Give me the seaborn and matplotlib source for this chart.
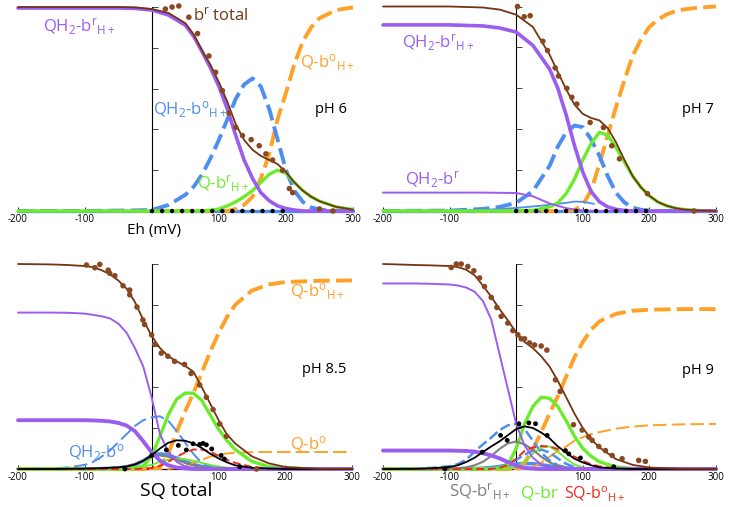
import matplotlib
matplotlib.use('Agg')
import matplotlib.pyplot as plt
import seaborn as sns

# ---------------- data ----------------
G_TOP = [-200, -100, -50, -25, 0, 25, 50, 62.5, 75, 87.5, 100, 112.5, 125, 137.5,
         150, 162.5, 175, 187.5, 200, 212.5, 225, 237.5, 250, 275, 300]
G_BOT = [-200, -150, -125, -100, -87.5, -75, -62.5, -50, -37.5, -25, -12.5, 0, 12.5,
         25, 37.5, 50, 62.5, 75, 87.5, 100, 112.5, 125, 150, 175, 200, 250, 300]

# pH 6
P6_BR_TOTAL = [1.0, 1.0, 1.0, 0.998, 0.99, 0.97, 0.92, 0.864, 0.785, 0.715, 0.63, 0.535, 0.425,
               0.348, 0.30, 0.27, 0.25, 0.23, 0.19, 0.14, 0.10, 0.07, 0.048, 0.02, 0.007]
P6_QH2_BR_H = [0.995, 0.995, 0.995, 0.993, 0.985, 0.96, 0.91, 0.855, 0.78, 0.70, 0.61, 0.50, 0.37,
               0.25, 0.16, 0.09, 0.05, 0.025, 0.012, 0.005, 0, 0, 0, 0, 0]
P6_QH2_BO_H = [0, 0, 0.002, 0.003, 0.005, 0.03, 0.08, 0.12, 0.18, 0.26, 0.35, 0.45, 0.55,
               0.62, 0.65, 0.61, 0.50, 0.35, 0.20, 0.10, 0.045, 0.018, 0.007, 0, 0]
P6_QH2_BO = [0] * 25
P6_Q_BR_H = [0, 0, 0, 0, 0, 0, 0, 0, 0, 0.004, 0.01, 0.025, 0.045,
             0.07, 0.10, 0.14, 0.18, 0.20, 0.185, 0.14, 0.10, 0.07, 0.048, 0.02, 0.007]
P6_Q_BO_H = [0, 0, 0, 0, 0, 0, 0, 0, 0, 0, 0, 0, 0.01,
             0.03, 0.07, 0.16, 0.28, 0.45, 0.58, 0.72, 0.83, 0.90, 0.945, 0.985, 0.998]
P6_DOT_X = [20, 30, 40, 55, 68, 85, 95, 105, 115, 125, 135, 148, 160, 170, 180, 195, 205, 210, 250, 270]
P6_DOT_Y = [0.99, 1.0, 1.005, 0.95, 0.87, 0.76, 0.68, 0.59, 0.48, 0.41, 0.37, 0.35, 0.32, 0.28,
            0.25, 0.20, 0.11, 0.09, 0.01, 0.0]
BASE_DOT_X = [0, 15, 30, 45, 60, 75, 90, 105, 120, 135, 150, 165, 180, 195]
BASE_DOT_Y = [0] * 14

# pH 7
P7_BR_TOTAL = [1.0, 1.0, 0.995, 0.985, 0.96, 0.90, 0.765, 0.68, 0.595, 0.52, 0.475, 0.455, 0.443,
               0.405, 0.335, 0.25, 0.17, 0.115, 0.075, 0.045, 0.027, 0.015, 0.008, 0.002, 0]
P7_QH2_BR_H = [0.91, 0.91, 0.905, 0.895, 0.875, 0.81, 0.695, 0.60, 0.47, 0.32, 0.19, 0.095, 0.045,
               0.02, 0.008, 0.003, 0, 0, 0, 0, 0, 0, 0, 0, 0]
P7_QH2_BR = [0.09, 0.09, 0.09, 0.089, 0.088, 0.072, 0.037, 0.025, 0.014, 0.007, 0.003, 0.001, 0,
             0, 0, 0, 0, 0, 0, 0, 0, 0, 0, 0, 0]
P7_QH2_BO_H = [0, 0.002, 0.01, 0.02, 0.04, 0.097, 0.22, 0.315, 0.385, 0.418, 0.41, 0.35, 0.27,
               0.17, 0.088, 0.042, 0.016, 0.006, 0.002, 0, 0, 0, 0, 0, 0]
P7_QH2_BO_X = [-200, -100, -50, 0, 25, 50, 75, 87.5, 100, 117]
P7_QH2_BO_Y = [0, 0.002, 0.005, 0.015, 0.022, 0.03, 0.04, 0.046, 0.045, 0.035]
P7_Q_BR_H = [0, 0, 0, 0, 0, 0.003, 0.02, 0.04, 0.085, 0.155, 0.25, 0.33, 0.385,
             0.37, 0.31, 0.24, 0.17, 0.115, 0.073, 0.044, 0.026, 0.015, 0.008, 0.002, 0]
P7_Q_BO_H = [0, 0, 0, 0, 0, 0, 0, 0, 0, 0.005, 0.03, 0.10, 0.23,
             0.37, 0.51, 0.64, 0.76, 0.84, 0.90, 0.935, 0.96, 0.975, 0.985, 0.995, 1.0]
P7_DOT_X = [2, 12, 21, 40, 47, 58.5, 63.5, 76, 83.5, 91, 111, 131, 143.5, 155, 197, 267]
P7_DOT_Y = [1.0, 0.95, 0.955, 0.83, 0.785, 0.70, 0.66, 0.60, 0.556, 0.523, 0.433, 0.408, 0.319,
            0.255, 0.085, 0.0]

# pH 8.5
P85_BR_TOTAL = [1.0, 0.998, 0.995, 0.99, 0.985, 0.97, 0.95, 0.92, 0.88, 0.815, 0.727, 0.65, 0.59,
                0.55, 0.525, 0.503, 0.475, 0.40, 0.32, 0.24, 0.17, 0.125, 0.062, 0.028, 0.01, 0.001, 0]
P85_QH2_BR_H = [0.763, 0.763, 0.762, 0.758, 0.752, 0.745, 0.735, 0.71, 0.665, 0.59, 0.50, 0.35, 0.17,
                0.085, 0.035, 0.013, 0.005, 0.002, 0, 0, 0, 0, 0, 0, 0, 0, 0]
P85_QH2_BR = [0.238, 0.238, 0.238, 0.238, 0.237, 0.235, 0.232, 0.225, 0.212, 0.185, 0.135, 0.082, 0.041,
              0.018, 0.007, 0.003, 0, 0, 0, 0, 0, 0, 0, 0, 0, 0, 0]
P85_QH2_BO = [0, 0.003, 0.008, 0.02, 0.035, 0.06, 0.09, 0.13, 0.17, 0.21, 0.238, 0.252, 0.257,
              0.235, 0.185, 0.13, 0.074, 0.03, 0.012, 0.004, 0, 0, 0, 0, 0, 0, 0]
P85_QH2_BO_H = [0, 0, 0, 0, 0, 0.002, 0.003, 0.005, 0.01, 0.02, 0.04, 0.065, 0.074,
                0.068, 0.053, 0.036, 0.022, 0.012, 0.005, 0.002, 0, 0, 0, 0, 0, 0, 0]
P85_Q_BR_H = [0, 0, 0, 0, 0, 0, 0, 0, 0, 0.005, 0.015, 0.06, 0.16,
              0.265, 0.34, 0.37, 0.37, 0.335, 0.265, 0.195, 0.14, 0.095, 0.037, 0.012, 0.004, 0, 0]
P85_Q_BR = [0, 0, 0, 0, 0, 0, 0, 0, 0.002, 0.005, 0.012, 0.02, 0.035,
            0.045, 0.05, 0.048, 0.04, 0.03, 0.02, 0.012, 0.007, 0.004, 0, 0, 0, 0, 0]
P85_SQ_TOTAL = [0, 0, 0.001, 0.002, 0.003, 0.004, 0.006, 0.008, 0.012, 0.022, 0.04, 0.066, 0.10,
                0.128, 0.14, 0.138, 0.125, 0.103, 0.075, 0.052, 0.033, 0.018, 0.006, 0.002, 0, 0, 0]
P85_SQ_BR_H = [0, 0, 0, 0.001, 0.002, 0.003, 0.005, 0.008, 0.014, 0.025, 0.042, 0.06, 0.066,
               0.06, 0.045, 0.03, 0.018, 0.01, 0.005, 0.002, 0, 0, 0, 0, 0, 0, 0]
P85_SQ_BO_H = [0, 0, 0, 0, 0, 0, 0, 0, 0, 0, 0.002, 0.005, 0.015,
               0.035, 0.06, 0.08, 0.095, 0.095, 0.085, 0.065, 0.045, 0.03, 0.01, 0.003, 0, 0, 0]
P85_Q_BO_H = [0, 0, 0, 0, 0, 0, 0, 0, 0, 0, 0, 0.002, 0.01,
              0.075, 0.18, 0.28, 0.37, 0.47, 0.57, 0.66, 0.74, 0.80, 0.87, 0.90, 0.912, 0.918, 0.92]
P85_Q_BO = [0, 0, 0, 0, 0, 0, 0, 0, 0, 0, 0, 0, 0,
            0, 0.005, 0.015, 0.03, 0.045, 0.06, 0.07, 0.076, 0.079, 0.082, 0.083, 0.083, 0.083, 0.083]
P85_DOT_X = [-97.5, -85, -77.6, -65, -62.7, -55, -42.8, -32.8, -32.8, -21.9, -13, -10.5, 0, 4.5,
             14.4, 24.4, 34.4, 49.3, 59, 72, 82, 92, 102, 112, 157]
P85_DOT_Y = [0.995, 0.982, 0.998, 0.97, 0.955, 0.943, 0.894, 0.873, 0.85, 0.79, 0.727, 0.705, 0.654,
             0.608, 0.565, 0.55, 0.525, 0.51, 0.466, 0.41, 0.35, 0.29, 0.22, 0.16, 0.0]
P85_SQ_DOT_X = [-40, 0, 22, 40, 52, 62, 72, 77, 82, 90, 104, 109, 132]
P85_SQ_DOT_Y = [0.0, 0.066, 0.093, 0.115, 0.093, 0.123, 0.12, 0.125, 0.118, 0.098, 0.066, 0.049, 0.011]

# pH 9
P9_BR_TOTAL = [1.0, 0.995, 0.993, 0.99, 0.985, 0.972, 0.945, 0.895, 0.84, 0.78, 0.725, 0.665, 0.62,
               0.59, 0.55, 0.50, 0.43, 0.35, 0.27, 0.20, 0.145, 0.105, 0.048, 0.02, 0.007, 0.001, 0]
P9_QH2_BR_H = [0.905, 0.905, 0.903, 0.90, 0.895, 0.885, 0.865, 0.82, 0.73, 0.56, 0.39, 0.22, 0.115,
               0.055, 0.022, 0.008, 0.003, 0, 0, 0, 0, 0, 0, 0, 0, 0, 0]
P9_QH2_BR = [0.09, 0.09, 0.09, 0.09, 0.089, 0.088, 0.085, 0.077, 0.066, 0.052, 0.034, 0.016, 0.006,
             0.002, 0, 0, 0, 0, 0, 0, 0, 0, 0, 0, 0, 0, 0]
P9_QH2_BO = [0, 0.002, 0.006, 0.013, 0.024, 0.045, 0.085, 0.12, 0.153, 0.19, 0.213, 0.22, 0.195,
             0.138, 0.08, 0.042, 0.018, 0.007, 0.002, 0, 0, 0, 0, 0, 0, 0, 0]
P9_QH2_BO_H = [0, 0, 0, 0, 0, 0, 0, 0.002, 0.005, 0.012, 0.025, 0.045, 0.07,
               0.09, 0.095, 0.08, 0.052, 0.025, 0.01, 0.003, 0, 0, 0, 0, 0, 0, 0]
P9_QH2_BO_S = [0, 0, 0, 0, 0, 0.001, 0.002, 0.004, 0.007, 0.012, 0.018, 0.024, 0.027,
               0.026, 0.021, 0.015, 0.009, 0.005, 0.002, 0, 0, 0, 0, 0, 0, 0, 0]
P9_Q_BR_H = [0, 0, 0, 0, 0, 0, 0, 0, 0, 0.005, 0.02, 0.10, 0.22,
             0.305, 0.35, 0.345, 0.305, 0.235, 0.16, 0.10, 0.062, 0.035, 0.01, 0.003, 0, 0, 0]
P9_Q_BR = [0, 0, 0, 0, 0, 0, 0, 0, 0, 0, 0.002, 0.01, 0.035,
           0.075, 0.105, 0.11, 0.085, 0.05, 0.022, 0.008, 0.003, 0, 0, 0, 0, 0, 0]
P9_SQ_TOTAL = [0, 0.001, 0.004, 0.01, 0.018, 0.034, 0.055, 0.083, 0.11, 0.135, 0.165, 0.195, 0.208,
               0.20, 0.178, 0.15, 0.11, 0.08, 0.05, 0.032, 0.018, 0.008, 0.002, 0, 0, 0, 0]
P9_SQ_BR_H = [0, 0, 0, 0.002, 0.004, 0.008, 0.018, 0.035, 0.063, 0.098, 0.125, 0.134, 0.12,
              0.095, 0.06, 0.033, 0.015, 0.005, 0.002, 0, 0, 0, 0, 0, 0, 0, 0]
P9_SQ_BO_H = [0, 0, 0, 0, 0, 0, 0, 0, 0, 0.005, 0.02, 0.05, 0.088,
              0.105, 0.112, 0.11, 0.097, 0.08, 0.06, 0.04, 0.023, 0.013, 0.003, 0, 0, 0, 0]
P9_Q_BO_H = [0, 0, 0, 0, 0, 0, 0, 0, 0, 0, 0, 0.003, 0.03,
             0.095, 0.18, 0.27, 0.355, 0.45, 0.545, 0.62, 0.68, 0.72, 0.757, 0.772, 0.777, 0.78, 0.78]
P9_Q_BO = [0, 0, 0, 0, 0, 0, 0, 0, 0, 0, 0, 0, 0,
           0.01, 0.03, 0.06, 0.088, 0.11, 0.138, 0.155, 0.17, 0.18, 0.197, 0.207, 0.213, 0.218, 0.22]
P9_DOT_X = [-97.6, -90, -82.6, -72.6, -63.6, -55, -47.6, -37.5, -29, -22.5, -12.6, -5, 2.5, 7.5,
            12.6, 20, 27.5, 37.5, 46, 59, 66, 86, 99, 109, 114, 124, 134, 144, 159, 184, 194]
P9_DOT_Y = [0.983, 1.0, 1.0, 0.988, 0.967, 0.932, 0.89, 0.837, 0.788, 0.745, 0.712, 0.675, 0.655,
            0.635, 0.635, 0.615, 0.605, 0.60, 0.58, 0.435, 0.378, 0.216, 0.19, 0.156, 0.14, 0.11,
            0.09, 0.066, 0.05, 0.042, 0.037]
P9_SQ_DOT_X = [-107, -51, -23.5, -13.5, 4, 19, 29, 46.5, 74, 79, 96.5, 146.5]
P9_SQ_DOT_Y = [0.0, 0.082, 0.164, 0.14, 0.221, 0.225, 0.221, 0.164, 0.09, 0.074, 0.054, 0.011]

XTICKS = [-200, -100, 100, 200, 300]
XTICKLABELS = ['-200', '-100', '100', '200', '300']
YTICKS = [0.2, 0.4, 0.6, 0.8, 1.0]

# ---------------- style ----------------
sns.set_style('white')
plt.rcParams['font.family'] = ['Open Sans', 'DejaVu Sans']
plt.rcParams['mathtext.fontset'] = 'custom'
plt.rcParams['mathtext.rm'] = 'Open Sans'
plt.rcParams['mathtext.it'] = 'Open Sans:italic'
plt.rcParams['mathtext.bf'] = 'Open Sans:bold'
plt.rcParams['axes.unicode_minus'] = False

BROWN = '#733511'
BROWN_DOT = '#8a4820'
PURPLE = '#9b5cf0'
BLUE = '#4d8ef0'
GREEN = '#6aec2a'
ORANGE = '#ffa126'
GRAY = '#7f7f7f'
RED = '#ee2b22'

THICK_DASH = (0, (4.2, 1.6))
THIN_DASH = (0, (7, 2.6))

W, H = 729, 507
fig = plt.figure(figsize=(W / 100, H / 100), dpi=100)


def make_ax(x0, x1, ybase, ytop):
    ax = fig.add_axes([x0 / W, 1 - ybase / H, (x1 - x0) / W, (ybase - ytop) / H])
    ax.set_facecolor('none')
    ax.set_xlim(-200, 300)
    ax.set_ylim(0, 1)
    for s in ['top', 'right']:
        ax.spines[s].set_visible(False)
    ax.spines['left'].set_position(('data', 0))
    ax.spines['left'].set_linewidth(0.8)
    ax.spines['left'].set_color('black')
    ax.spines['bottom'].set_linewidth(0.9)
    ax.spines['bottom'].set_color('black')
    ax.grid(False)
    return ax


def finish_ax(ax):
    ax.set_xticks(XTICKS)
    ax.set_xticklabels(XTICKLABELS)
    ax.set_yticks(YTICKS)
    ax.set_yticklabels([])
    ax.tick_params(axis='x', direction='in', length=3, width=0.6, labelsize=7, pad=2,
                   bottom=True, colors='black')
    ax.tick_params(axis='y', direction='in', length=4, width=0.6, left=True)
    ax.set_xlabel('')
    ax.set_ylabel('')


def line(ax, x, y, color, lw, ls='-', z=3):
    sns.lineplot(x=x, y=y, ax=ax, color=color, linewidth=lw, linestyle=ls,
                 estimator=None, sort=False, legend=False, clip_on=False, zorder=z)


def dots(ax, x, y, color, s):
    sns.scatterplot(x=x, y=y, ax=ax, color=color, s=s, edgecolor='none',
                    legend=False, clip_on=False, zorder=6)


def label(px, py, s, color, size):
    fig.text(px / W, 1 - py / H, s, color=color, fontsize=size, ha='left', va='baseline')


QH2_BRH = r'QH$_\mathrm{2}$-b$^\mathrm{r}{}_\mathrm{H+}$'
QH2_BOH = r'QH$_\mathrm{2}$-b$^\mathrm{o}{}_\mathrm{H+}$'
QH2_BR = r'QH$_\mathrm{2}$-b$^\mathrm{r}$'
QH2_BO = r'QH$_\mathrm{2}$-b$^\mathrm{o}$'
Q_BOH = r'Q-b$^\mathrm{o}{}_\mathrm{H+}$'
Q_BRH = r'Q-b$^\mathrm{r}{}_\mathrm{H+}$'
Q_BO = r'Q-b$^\mathrm{o}$'

# ---------------- panel pH 6 ----------------
ax1 = make_ax(18, 353, 211, 7)
line(ax1, G_TOP, P6_QH2_BO, BLUE, 2.4)
line(ax1, G_TOP, P6_Q_BO_H, ORANGE, 2.8, THICK_DASH)
line(ax1, G_TOP, P6_QH2_BO_H, BLUE, 2.8, THICK_DASH)
line(ax1, G_TOP, P6_Q_BR_H, GREEN, 2.4)
line(ax1, G_TOP, P6_QH2_BR_H, PURPLE, 2.6)
line(ax1, G_TOP, P6_BR_TOTAL, BROWN, 1.3, z=4)
dots(ax1, BASE_DOT_X, BASE_DOT_Y, 'black', 10)
dots(ax1, P6_DOT_X, P6_DOT_Y, BROWN_DOT, 16)
finish_ax(ax1)

# ---------------- panel pH 7 ----------------
ax2 = make_ax(383, 716, 211, 6.5)
line(ax2, G_TOP, [0] * 25, BLUE, 2.4)
line(ax2, G_TOP, P7_Q_BO_H, ORANGE, 2.8, THICK_DASH)
line(ax2, G_TOP, P7_QH2_BO_H, BLUE, 2.8, THICK_DASH)
line(ax2, P7_QH2_BO_X, P7_QH2_BO_Y, BLUE, 1.3)
line(ax2, G_TOP, P7_Q_BR_H, GREEN, 2.4)
line(ax2, G_TOP, P7_QH2_BR, PURPLE, 1.4)
line(ax2, G_TOP, P7_QH2_BR_H, PURPLE, 2.6)
line(ax2, G_TOP, P7_BR_TOTAL, BROWN, 1.3, z=4)
dots(ax2, BASE_DOT_X, BASE_DOT_Y, 'black', 10)
dots(ax2, P7_DOT_X, P7_DOT_Y, BROWN_DOT, 16)
finish_ax(ax2)

# ---------------- panel pH 8.5 ----------------
ax3 = make_ax(18, 352, 469, 264)
line(ax3, G_BOT, P85_QH2_BO_H, BLUE, 2.6)
line(ax3, G_BOT, P85_Q_BO_H, ORANGE, 2.8, THICK_DASH)
line(ax3, G_BOT, P85_Q_BO, ORANGE, 1.4, THIN_DASH)
line(ax3, G_BOT, P85_QH2_BO, BLUE, 1.4, THIN_DASH)
line(ax3, G_BOT, P85_Q_BR, GREEN, 1.3)
line(ax3, G_BOT, P85_Q_BR_H, GREEN, 2.4)
line(ax3, G_BOT, P85_SQ_BR_H, GRAY, 1.5)
line(ax3, G_BOT, P85_SQ_BO_H, RED, 1.4, (0, (4, 2)))
line(ax3, G_BOT, P85_QH2_BR_H, PURPLE, 1.4)
line(ax3, G_BOT, P85_QH2_BR, PURPLE, 2.8)
line(ax3, G_BOT, P85_SQ_TOTAL, 'black', 1.3, z=4)
line(ax3, G_BOT, P85_BR_TOTAL, BROWN, 1.3, z=4)
dots(ax3, P85_SQ_DOT_X, P85_SQ_DOT_Y, 'black', 12)
dots(ax3, P85_DOT_X, P85_DOT_Y, BROWN_DOT, 16)
finish_ax(ax3)

# ---------------- panel pH 9 ----------------
ax4 = make_ax(383, 716, 469, 264)
line(ax4, G_BOT, P9_QH2_BO_S, BLUE, 2.6)
line(ax4, G_BOT, P9_Q_BO_H, ORANGE, 2.8, THICK_DASH)
line(ax4, G_BOT, P9_Q_BO, ORANGE, 1.4, THIN_DASH)
line(ax4, G_BOT, P9_QH2_BO, BLUE, 1.8, THICK_DASH)
line(ax4, G_BOT, P9_QH2_BO_H, BLUE, 1.8, THICK_DASH)
line(ax4, G_BOT, P9_Q_BR, GREEN, 1.3)
line(ax4, G_BOT, P9_Q_BR_H, GREEN, 2.4)
line(ax4, G_BOT, P9_SQ_BR_H, GRAY, 1.5)
line(ax4, G_BOT, P9_SQ_BO_H, RED, 1.4, (0, (4, 2)))
line(ax4, G_BOT, P9_QH2_BR_H, PURPLE, 1.4)
line(ax4, G_BOT, P9_QH2_BR, PURPLE, 2.8)
line(ax4, G_BOT, P9_SQ_TOTAL, 'black', 1.3, z=4)
line(ax4, G_BOT, P9_BR_TOTAL, BROWN, 1.3, z=4)
dots(ax4, P9_SQ_DOT_X, P9_SQ_DOT_Y, 'black', 12)
dots(ax4, P9_DOT_X, P9_DOT_Y, BROWN_DOT, 16)
finish_ax(ax4)

# ---------------- labels ----------------
label(43, 32, QH2_BRH, PURPLE, 12)
label(193, 20, r'b$^\mathrm{r}$ total', BROWN, 12)
label(300, 68, Q_BOH, ORANGE, 12)
label(153, 115, QH2_BOH, BLUE, 12)
label(315, 113, 'pH 6', 'black', 10.5)
label(197, 189, Q_BRH, GREEN, 12)
label(127, 234, 'Eh (mV)', 'black', 11)

label(402, 48, QH2_BRH, PURPLE, 12)
label(405, 185, QH2_BR, PURPLE, 12)
label(682, 113, 'pH 7', 'black', 10.5)

label(290, 297, Q_BOH, ORANGE, 12)
label(302, 373, 'pH 8.5', 'black', 10.5)
label(290, 449, Q_BO, ORANGE, 12)
label(68, 458, QH2_BO, BLUE, 12)
label(140, 496, 'SQ total', 'black', 14)

label(682, 374, 'pH 9', 'black', 10.5)
label(449, 497, r'SQ-b$^\mathrm{r}{}_\mathrm{H+}$', GRAY, 12)
label(521, 497, 'Q-br', GREEN, 12.5)
label(564, 498, r'SQ-b$^\mathrm{o}{}_\mathrm{H+}$', RED, 11.5)

fig.savefig('out.png', dpi=100)
